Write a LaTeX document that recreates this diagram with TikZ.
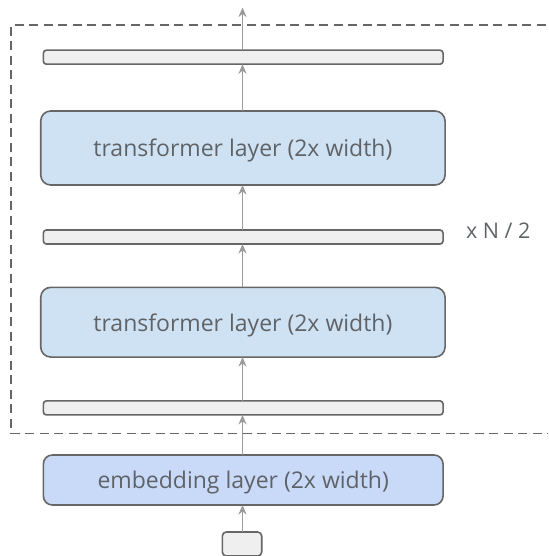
\documentclass[tikz,border=0pt]{standalone}
\usepackage{fontspec}
\setmainfont{Open Sans}
\usetikzlibrary{arrows.meta}
\definecolor{edgegray}{HTML}{666666}
\definecolor{arrowgray}{HTML}{9A9A9A}
\definecolor{textgray}{HTML}{5F6368}
\definecolor{barfill}{HTML}{EFEFEF}
\definecolor{layerfill}{HTML}{CFE2F3}
\definecolor{embedfill}{HTML}{C9DAF8}
\tikzset{
  every node/.style={inner sep=0pt, outer sep=0pt, anchor=center},
  labeltext/.style={font=\fontsize{23}{26}\selectfont, text=textgray, text depth=0pt},
  normbar/.style={draw=edgegray, line width=1.6pt, fill=barfill, rounded corners=3pt,
    minimum width=399.7pt, minimum height=14pt},
  layerbox/.style={draw=edgegray, line width=1.6pt, fill=layerfill, rounded corners=10pt,
    minimum width=404.3pt, labeltext},
  embedbox/.style={draw=edgegray, line width=1.6pt, fill=embedfill, rounded corners=9pt,
    minimum width=399.7pt, minimum height=50pt, labeltext},
  inputbox/.style={draw=edgegray, line width=1.6pt, fill=barfill, rounded corners=4pt,
    minimum width=39.4pt, minimum height=24pt},
  flow/.style={draw=arrowgray, line width=1.5pt, -{Stealth[length=9.5pt,width=8pt]}},
  repeatframe/.style={draw=edgegray, line width=1.5pt, dash pattern=on 9pt off 5.5pt}
}
\begin{document}
\begin{tikzpicture}[x=1pt, y=-1pt]
  \useasboundingbox (0,0) rectangle (548,556);
  \clip (0,0) rectangle (548,556);

  % repeated block frame (right side runs off the page)
  \draw[repeatframe] (560,25) -- (11,25) -- (11,433.3) -- (560,433.3);

  % stack of layers, bottom to top
  \node[inputbox] (input) at (242,544) {};
  \node[embedbox] (embed) at (243.2,480) {embedding layer (2x width)};
  \node[normbar] (bar3) at (243.2,407.9) {};
  \node[layerbox, minimum height=69.7pt] (layer2) at (242.9,322.2) {transformer layer (2x width)};
  \node[normbar] (bar2) at (243.2,237) {};
  \node[layerbox, minimum height=74pt] (layer1) at (242.9,148) {transformer layer (2x width)};
  \node[normbar] (bar1) at (243.2,57.2) {};
  \coordinate (out) at (242.5,7.5);

  \node[text=textgray, font=\fontsize{21.5}{24}\selectfont, anchor=west] (repeat) at (466,231) {x N / 2};

  % data flow
  \draw[flow] (input.north -| 242.5,0) -- (embed.south -| 242.5,0);
  \draw[flow] (embed.north -| 242.5,0) -- (bar3.south -| 242.5,0);
  \draw[flow] (bar3.north -| 242.5,0) -- (layer2.south -| 242.5,0);
  \draw[flow] (layer2.north -| 242.5,0) -- (bar2.south -| 242.5,0);
  \draw[flow] (bar2.north -| 242.5,0) -- (layer1.south -| 242.5,0);
  \draw[flow] (layer1.north -| 242.5,0) -- (bar1.south -| 242.5,0);
  \draw[flow] (bar1.north -| 242.5,0) -- (out);
\end{tikzpicture}
\end{document}
